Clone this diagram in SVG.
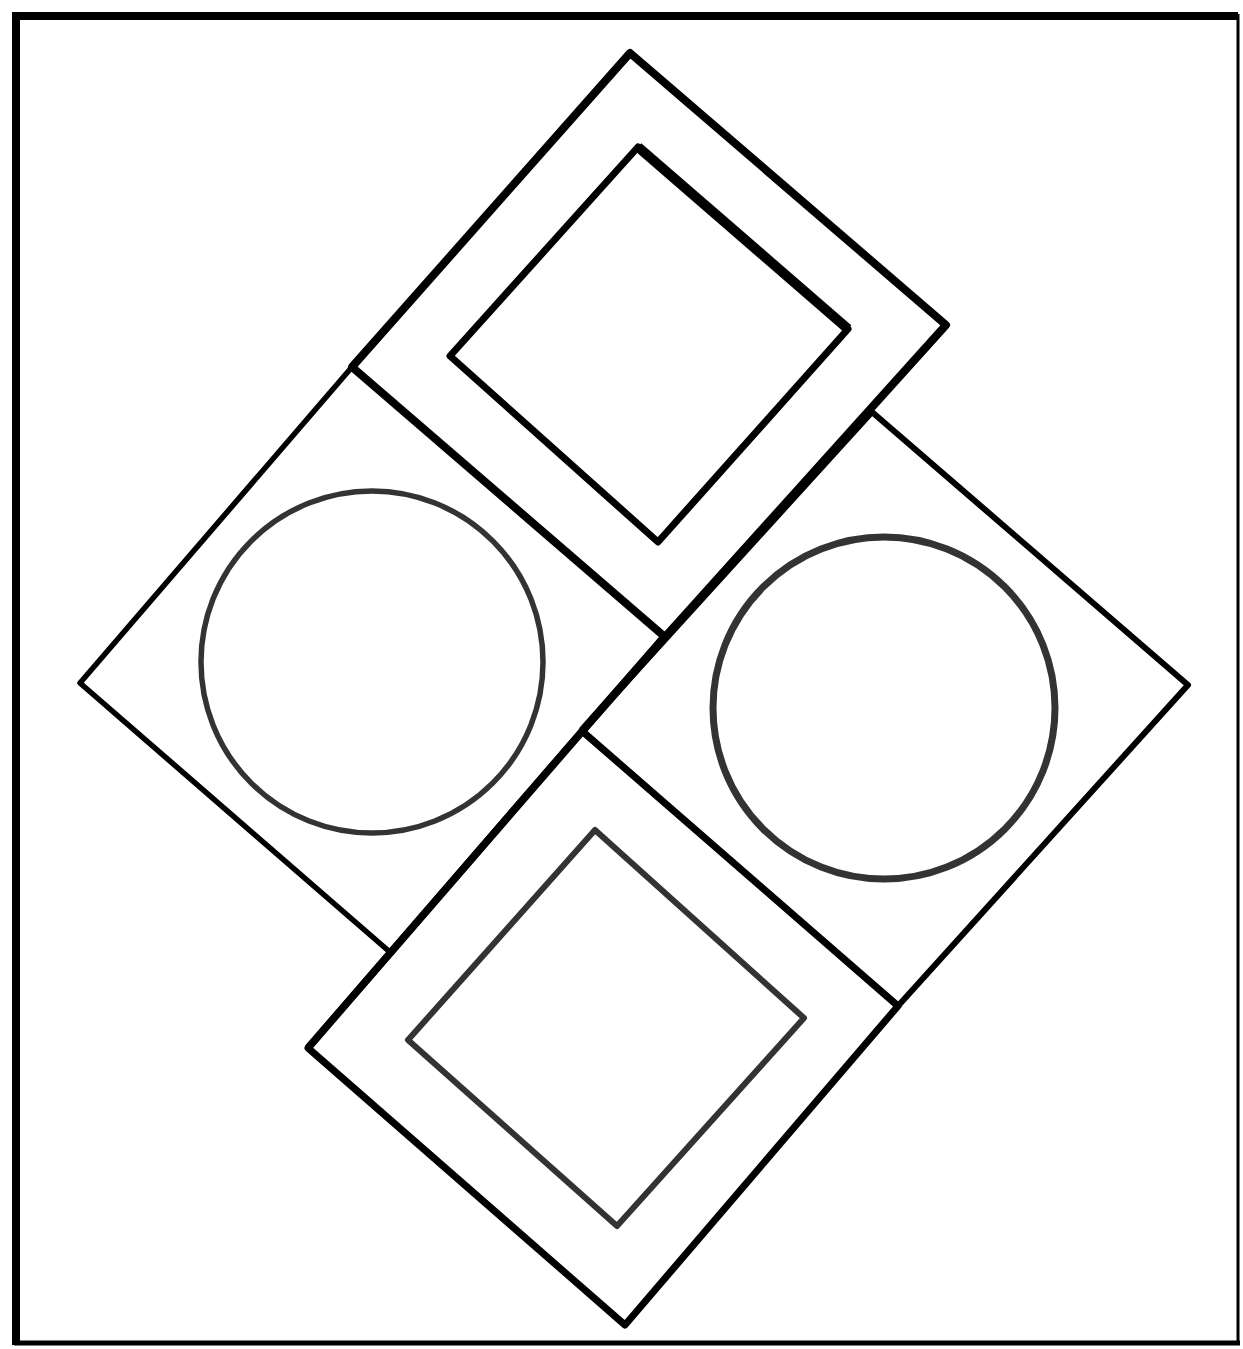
<svg xmlns="http://www.w3.org/2000/svg" width="1243" height="1349" viewBox="0 0 1243 1349">
<style>
.o{fill:none;stroke:#000;stroke-linejoin:round}
.g{fill:none;stroke:#333;stroke-linejoin:round}
</style>
<rect width="1243" height="1349" fill="#fff"/>
<g id="frame">
<line x1="16" y1="16" x2="1238" y2="16" stroke="#000" stroke-width="8"/>
<line x1="16" y1="12" x2="16" y2="1345" stroke="#000" stroke-width="8"/>
<line x1="1238" y1="14" x2="1238" y2="1344" stroke="#000" stroke-width="3"/>
<line x1="14" y1="1343" x2="1240" y2="1343" stroke="#000" stroke-width="5"/>
</g>
<g id="left-square">
<polygon class="o" stroke-width="5.5" points="352,367 664,637 391,953 80,683"/>
<circle class="g" cx="372" cy="662" r="171" stroke-width="5.5"/>
</g>
<g id="right-square">
<polygon class="o" stroke-width="6" points="872,412 1188,685 898,1006 582,731"/>
<circle class="g" cx="884" cy="708" r="171" stroke-width="7"/>
</g>
<g id="bottom-square">
<polygon class="o" stroke-width="7" points="582,731 898,1006 625,1325 308,1048"/>
<polygon class="g" stroke-width="6" points="595,830 804,1018 617,1226 408,1040"/>
</g>
<g id="top-square">
<polygon class="o" stroke-width="8" points="630,53 946,325 665,637 352,367"/>
<polygon class="o" stroke-width="7" points="638,147 848,329 658,542 450,356"/>
<line class="o" stroke-width="10" x1="638" y1="147" x2="848" y2="329"/>
</g>
<g id="lines">
<line class="o" stroke-width="8" x1="665" y1="637" x2="582" y2="731"/>
<line class="o" stroke-width="7.5" x1="664" y1="637" x2="308" y2="1048"/>
</g>
</svg>
